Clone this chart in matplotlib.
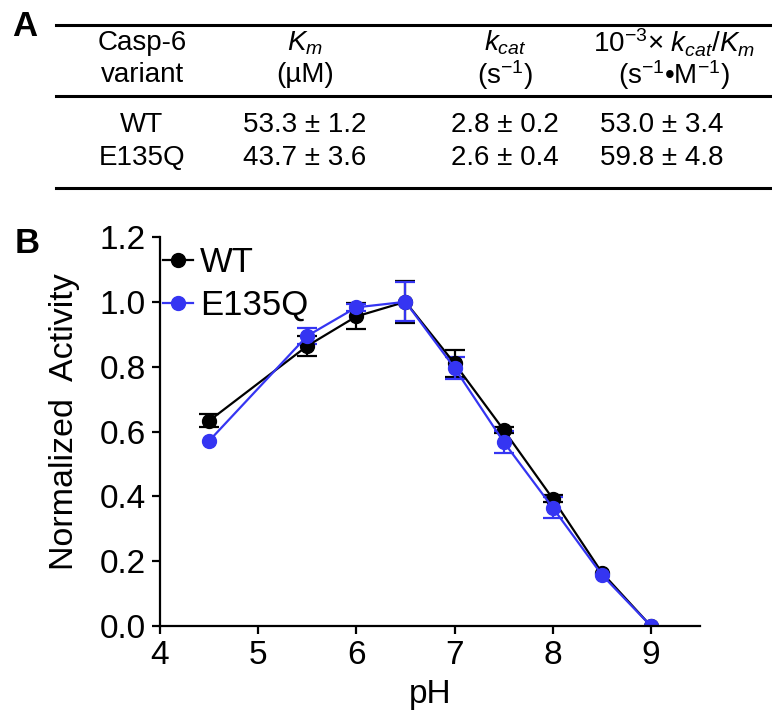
import numpy as np
import matplotlib.pyplot as plt
from matplotlib.lines import Line2D

plt.rcParams['font.family'] = ['Liberation Sans', 'DejaVu Sans']
plt.rcParams['mathtext.fontset'] = 'custom'
plt.rcParams['mathtext.rm'] = 'Liberation Sans'
plt.rcParams['mathtext.it'] = 'Liberation Sans:italic'

# kinetic parameters table (panel A)
variants = ["WT", "E135Q"]
km_vals = ["53.3 ± 1.2", "43.7 ± 3.6"]
kcat_vals = ["2.8 ± 0.2", "2.6 ± 0.4"]
eff_vals = ["53.0 ± 3.4", "59.8 ± 4.8"]

# pH profile (panel B); nan = no visible error bar
ph = [4.5, 5.5, 6.0, 6.5, 7.0, 7.5, 8.0, 8.5, 9.0]
wt_act = [0.633, 0.864, 0.955, 1.0, 0.81, 0.605, 0.393, 0.165, 0.0]
wt_err = [0.02, 0.03, 0.04, 0.065, 0.042, 0.01, 0.012, np.nan, np.nan]
mut_act = [0.571, 0.895, 0.983, 1.0, 0.796, 0.568, 0.365, 0.158, 0.0]
mut_err = [np.nan, 0.025, 0.01, 0.06, 0.035, 0.035, 0.032, np.nan, np.nan]

blue = '#3535f2'

fig = plt.figure(figsize=(7.72, 7.13), dpi=100)
W, H = 772.0, 713.0

def fx(px):
    return px / W

def fy(py):
    return 1 - py / H

# table rules
for py in (25, 96, 188):
    fig.add_artist(Line2D([fx(56), 1.0], [fy(py), fy(py)], color='black', lw=2.2,
                          transform=fig.transFigure))

fs = 20
col_x = [142, 305, 505, 674]
fig.text(fx(25), fy(26), "A", fontsize=25, fontweight='bold', ha='center', va='center')
fig.text(fx(27), fy(243), "B", fontsize=25, fontweight='bold', ha='center', va='center')

fig.text(fx(col_x[0]), fy(43), "Casp-6", fontsize=fs, ha='center', va='center')
fig.text(fx(col_x[0]), fy(75), "variant", fontsize=fs, ha='center', va='center')
fig.text(fx(col_x[1]), fy(43), r"$\mathit{K_m}$", fontsize=fs, ha='center', va='center')
fig.text(fx(col_x[1]), fy(75), "(µM)", fontsize=fs, ha='center', va='center')
fig.text(fx(col_x[2]), fy(43), r"$\mathit{k_{cat}}$", fontsize=fs, ha='center', va='center')
fig.text(fx(col_x[2]), fy(75), r"(s$^{-1}$)", fontsize=fs, ha='center', va='center')
fig.text(fx(col_x[3]), fy(43), r"10$^{-3}$× $\mathit{k_{cat}/K_m}$", fontsize=fs,
         ha='center', va='center')
fig.text(fx(col_x[3]), fy(75), r"(s$^{-1}$•M$^{-1}$)", fontsize=fs, ha='center', va='center')

row_y = [125, 158]
val_x = [142, 305, 505, 662]
for i in range(len(variants)):
    fig.text(fx(val_x[0]), fy(row_y[i]), variants[i], fontsize=fs, ha='center', va='center')
    fig.text(fx(val_x[1]), fy(row_y[i]), km_vals[i], fontsize=fs, ha='center', va='center')
    fig.text(fx(val_x[2]), fy(row_y[i]), kcat_vals[i], fontsize=fs, ha='center', va='center')
    fig.text(fx(val_x[3]), fy(row_y[i]), eff_vals[i], fontsize=fs, ha='center', va='center')

# activity vs pH
ax = fig.add_axes([fx(160), fy(626), fx(700) - fx(160), fy(237) - fy(626)])
ax.errorbar(ph, wt_act, yerr=wt_err, color='black', marker='o', markersize=10,
            lw=1.6, capsize=7, capthick=1.6, elinewidth=1.6)
ax.errorbar(ph, mut_act, yerr=mut_err, color=blue, marker='o', markersize=10,
            lw=1.6, capsize=7, capthick=1.6, elinewidth=1.6)

ax.set_xlim(4, 9.5)
ax.set_ylim(0, 1.2)
ax.set_xticks([4, 5, 6, 7, 8, 9])
ax.set_yticks(np.arange(0, 1.21, 0.2))
ax.set_yticklabels(["%.1f" % v for v in np.arange(0, 1.21, 0.2)])
for s in ('top', 'right'):
    ax.spines[s].set_visible(False)
for s in ('left', 'bottom'):
    ax.spines[s].set_linewidth(1.6)
ax.tick_params(labelsize=24, width=1.6, length=6, direction='out', pad=4)
ax.set_xlabel("pH", fontsize=24, labelpad=6)
ax.set_ylabel("Normalized  Activity", fontsize=24.5)
ax.yaxis.set_label_coords(-0.148, 0.525)

# legend with plain line+marker handles
handles = [Line2D([], [], color='black', marker='o', markersize=10, lw=1.6),
           Line2D([], [], color=blue, marker='o', markersize=10, lw=1.6)]
ax.legend(handles, ["WT", "E135Q"], loc='upper left', bbox_to_anchor=(0.0, 0.985),
          frameon=False, fontsize=25, handlelength=0.85, handletextpad=0.2,
          labelspacing=0.28, borderaxespad=0, borderpad=0.1)

fig.savefig("out.png", dpi=100)
